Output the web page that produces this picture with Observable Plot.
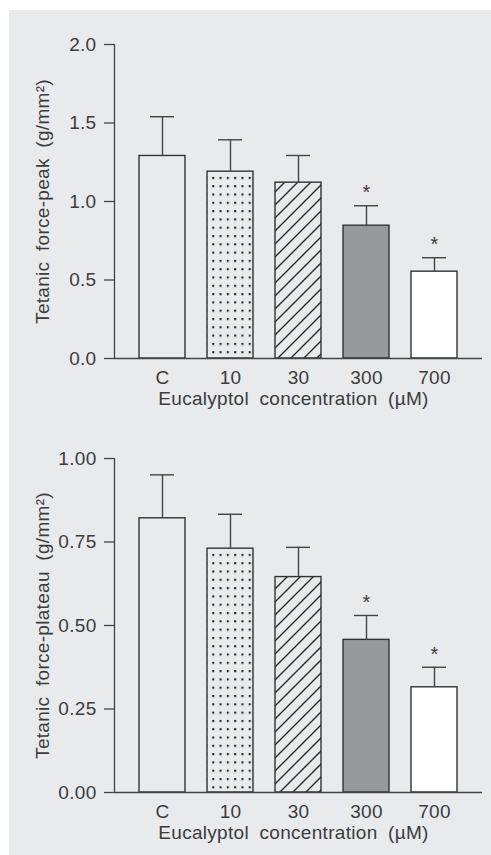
<!DOCTYPE html>
<html><head><meta charset="utf-8">
<script src="https://cdn.jsdelivr.net/npm/d3@7"></script>
<script src="https://cdn.jsdelivr.net/npm/@observablehq/plot@0.6"></script>
<style>
body{margin:0;background:#ffffff;}
#panel{position:absolute;left:9px;top:10px;width:482px;height:845px;background:#e9eaec;overflow:hidden;}
#panel svg{display:block;}
</style></head><body><div id="panel"></div>
<script>
// ---- data ----
const categories = ["C", "10", "30", "300", "700"];
const peakMean = [1.29, 1.19, 1.12, 0.846, 0.553];
const peakUpper = [1.54, 1.393, 1.293, 0.973, 0.642];
const plateauMean = [0.821, 0.730, 0.645, 0.457, 0.315];
const plateauUpper = [0.951, 0.833, 0.734, 0.530, 0.375];
const significant = [false, false, false, true, true];
const peakTicks = [0, 0.5, 1.0, 1.5, 2.0];
const plateauTicks = [0, 0.25, 0.5, 0.75, 1.0];
const peakLabel = "Tetanic force-peak (g/mm²)";
const plateauLabel = "Tetanic force-plateau (g/mm²)";
const xLabel = "Eucalyptol concentration (µM)";

// ---- styles ----
const INK = "#333333";
const TEXT = "#3c3c3c";
const FONT = "'Liberation Sans', Arial, Helvetica, sans-serif";
function fillFor(prefix, i) {
  return ["none", `url(#${prefix}-dots)`, `url(#${prefix}-hatch)`, "#98999b", "#ffffff"][i];
}

function makeChart({means, uppers, ticks, fmt, domain, label, height, marginTop, marginBottom, prefix}) {
  const data = categories.map((c, i) => ({cat: c, mean: means[i], upper: uppers[i], sig: significant[i], fill: fillFor(prefix, i)}));
  const chart = Plot.plot({
    width: 482, height, marginLeft: 105, marginRight: 9, marginTop, marginBottom,
    style: {background: "none", fontFamily: FONT, fontSize: "19px", color: TEXT, letterSpacing: "0.3px", wordSpacing: "5px"},
    x: {domain: categories, paddingInner: 0.32, paddingOuter: 0.33, axis: null},
    y: {domain, axis: null},
    color: {type: "identity"},
    marks: [
      Plot.barY(data, {x: "cat", y: "mean", fill: "fill", stroke: INK, strokeWidth: 1.4}),
      Plot.ruleX(data, {x: "cat", y1: "mean", y2: "upper", stroke: "#444", strokeWidth: 1.4}),
      Plot.tickY(data, {x: "cat", y: "upper", inset: 11, stroke: "#444", strokeWidth: 1.4}),
      Plot.text(data.filter(d => d.sig), {x: "cat", y: "upper", text: () => "*", dy: -13, fontSize: 20, fill: TEXT}),
      Plot.ruleY([domain[0]], {stroke: "#444", strokeWidth: 1.3}),
      Plot.axisY({ticks, tickFormat: fmt, tickSize: 10, tickPadding: 8, label: null, stroke: "#444", strokeWidth: 1.3}),
      Plot.axisX({tickSize: 0, tickPadding: 12, label: null}),
      Plot.text([xLabel], {frameAnchor: "bottom", dy: 33, dx: -5, lineAnchor: "top", textAnchor: "middle", fill: TEXT}),
      Plot.text([label], {frameAnchor: "left", rotate: -90, dx: -72, textAnchor: "middle", lineAnchor: "middle", fill: TEXT})
    ]
  });
  const svg = d3.select(chart);
  const x = chart.scale("x"), y = chart.scale("y");
  // y axis line
  svg.append("line")
    .attr("x1", 105.5).attr("x2", 105.5)
    .attr("y1", y.apply(domain[0])).attr("y2", y.apply(domain[1]))
    .attr("stroke", "#444").attr("stroke-width", 1.3);
  // patterns
  const defs = svg.insert("defs", ":first-child");
  const bx = x.apply(categories[1]);
  const by = y.apply(means[1]);
  const dots = defs.append("pattern").attr("id", `${prefix}-dots`).attr("patternUnits", "userSpaceOnUse")
    .attr("x", bx + 5.2).attr("y", by + 5.7).attr("width", 7.3).attr("height", 8.3);
  dots.append("rect").attr("width", 2.1).attr("height", 2.1).attr("fill", "#2a2a2a");
  const s = 13;
  const hatch = defs.append("pattern").attr("id", `${prefix}-hatch`).attr("patternUnits", "userSpaceOnUse")
    .attr("x", x.apply(categories[2])).attr("y", 0).attr("width", s).attr("height", s);
  hatch.append("path")
    .attr("d", `M0,${s} L${s},0 M${-s/4},${s/4} L${s/4},${-s/4} M${3*s/4},${5*s/4} L${5*s/4},${3*s/4}`)
    .attr("stroke", "#2a2a2a").attr("stroke-width", 1.4);
  return chart;
}

const panel = document.getElementById("panel");
panel.append(makeChart({means: peakMean, uppers: peakUpper, ticks: peakTicks, fmt: d3.format(".1f"), domain: [0, 2], label: peakLabel, height: 410, marginTop: 34, marginBottom: 62, prefix: "peak"}));
panel.append(makeChart({means: plateauMean, uppers: plateauUpper, ticks: plateauTicks, fmt: d3.format(".2f"), domain: [0, 1], label: plateauLabel, height: 435, marginTop: 38, marginBottom: 63, prefix: "plat"}));
</script>
</body></html>
